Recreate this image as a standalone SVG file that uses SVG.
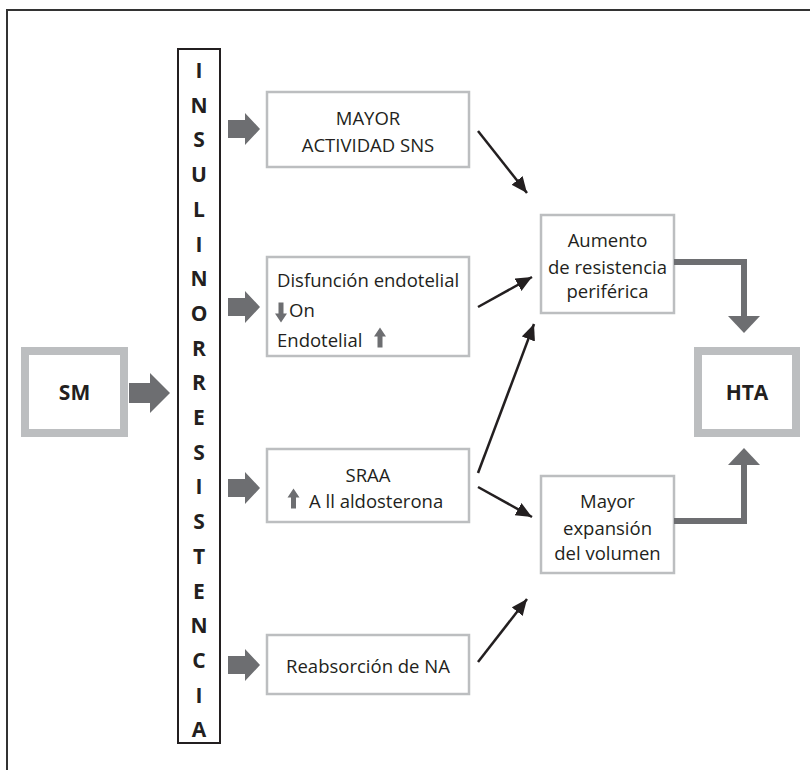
<svg xmlns="http://www.w3.org/2000/svg" width="810" height="770" viewBox="0 0 810 770">
<style>
.t{font-family:"Open Sans","Liberation Sans",sans-serif;font-size:18.5px;fill:#231f20}
.c{text-anchor:middle}
.b{font-weight:bold;font-size:21px}
.box{fill:#fff;stroke:#bcbec0;stroke-width:2.5}
.thick{fill:#fff;stroke:#bcbec0;stroke-width:8}
.blk{fill:#6d6e71}
.ln{stroke:#231f20;stroke-width:2.5;fill:none;marker-end:url(#ah)}
.gl{stroke:#6d6e71;stroke-width:6;fill:none}
</style>
<defs>
<marker id="ah" markerUnits="userSpaceOnUse" markerWidth="18" markerHeight="16" refX="16" refY="7" orient="auto">
<path d="M0,0 L16,7 L0,14 Z" fill="#231f20"/>
</marker>
<path id="ga" d="M0,-9 H17 V-16 L32,0 L17,16 V9 H0 Z" fill="#6d6e71"/>
<path id="up" d="M-2.5,10 V-1 H-6 L0,-10 L6,-1 H2.5 V10 Z" fill="#6d6e71"/>
</defs>
<rect width="810" height="770" fill="#fff"/>
<path d="M7,770 V10 H810" fill="none" stroke="#333" stroke-width="2"/>

<g id="sm">
<rect class="thick" x="25" y="351" width="99" height="82"/>
<text class="t c b" x="74.5" y="400">SM</text>
</g>

<g id="insulinorresistencia">
<rect x="178" y="49" width="42" height="694" fill="#fff" stroke="#231f20" stroke-width="2"/>
<g class="t c b">
<text x="199" y="78">I</text>
<text x="199" y="112.7">N</text>
<text x="199" y="147.4">S</text>
<text x="199" y="182.1">U</text>
<text x="199" y="216.8">L</text>
<text x="199" y="251.5">I</text>
<text x="199" y="286.2">N</text>
<text x="199" y="320.9">O</text>
<text x="199" y="355.6">R</text>
<text x="199" y="390.3">R</text>
<text x="199" y="425">E</text>
<text x="199" y="459.7">S</text>
<text x="199" y="494.4">I</text>
<text x="199" y="529.1">S</text>
<text x="199" y="563.8">T</text>
<text x="199" y="598.5">E</text>
<text x="199" y="633.2">N</text>
<text x="199" y="667.9">C</text>
<text x="199" y="702.6">I</text>
<text x="199" y="737.3">A</text>
</g>
</g>

<g id="sns">
<rect class="box" x="267" y="92" width="202" height="75"/>
<text class="t c" x="368" y="125">MAYOR</text>
<text class="t c" x="368" y="152">ACTIVIDAD SNS</text>
</g>

<g id="disfuncion">
<rect class="box" x="267" y="257" width="202" height="99"/>
<text class="t" x="277" y="287">Disfunción endotelial</text>
<use href="#up" transform="translate(281,312.5) rotate(180)"/>
<text class="t" x="289" y="317">On</text>
<text class="t" x="277" y="347">Endotelial</text>
<use href="#up" transform="translate(380,337.5)"/>
</g>

<g id="sraa">
<rect class="box" x="267" y="449" width="202" height="73"/>
<text class="t c" x="368" y="482">SRAA</text>
<use href="#up" transform="translate(293.5,498.5)"/>
<text class="t" x="309" y="508">A ll aldosterona</text>
</g>

<g id="reabsorcion">
<rect class="box" x="267" y="635" width="202" height="59"/>
<text class="t c" x="368" y="673">Reabsorción de NA</text>
</g>

<g id="aumento">
<rect class="box" x="541" y="215" width="133" height="98"/>
<text class="t c" x="607.5" y="247">Aumento</text>
<text class="t c" x="607.5" y="274">de resistencia</text>
<text class="t c" x="607.5" y="298">periférica</text>
</g>

<g id="expansion">
<rect class="box" x="541" y="476" width="133" height="97"/>
<text class="t c" x="607.5" y="508">Mayor</text>
<text class="t c" x="607.5" y="535">expansión</text>
<text class="t c" x="607.5" y="560">del volumen</text>
</g>

<g id="hta">
<rect class="thick" x="698" y="351" width="98" height="82"/>
<text class="t c b" x="747" y="400">HTA</text>
</g>

<g id="connectors">
<path class="blk" d="M129,383 H150 V373 L170,393 L150,413 V403 H129 Z"/>
<use href="#ga" x="228" y="129"/>
<use href="#ga" x="228" y="307"/>
<use href="#ga" x="228" y="488"/>
<use href="#ga" x="228" y="665"/>
<line class="ln" x1="478" y1="131" x2="527" y2="193"/>
<line class="ln" x1="478" y1="307" x2="532" y2="277"/>
<line class="ln" x1="478" y1="473" x2="534" y2="324"/>
<line class="ln" x1="478" y1="487" x2="532" y2="517"/>
<line class="ln" x1="478" y1="662" x2="527" y2="599"/>
<path class="gl" d="M674,262 H744 V317"/>
<polygon class="blk" points="728,316 760,316 744,333"/>
<path class="gl" d="M674,521 H744 V464"/>
<polygon class="blk" points="728,465 760,465 744,448"/>
</g>
</svg>
